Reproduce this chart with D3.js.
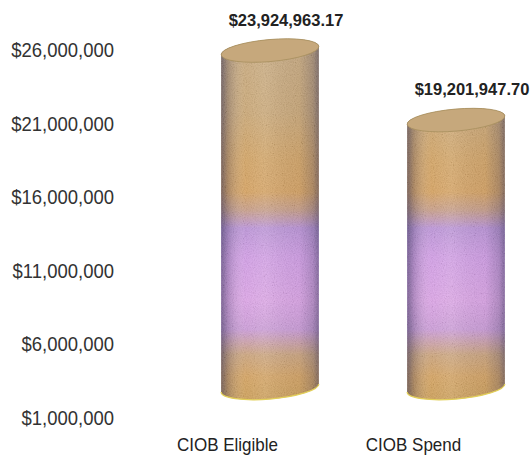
<!DOCTYPE html>
<html>
<head>
<meta charset="utf-8">
<script src="https://cdn.jsdelivr.net/npm/d3@7"></script>
<style>
  body { margin: 0; background: #fff; }
  svg { display: block; font-family: "Liberation Sans", Arial, sans-serif; }
</style>
</head>
<body>
<div id="chart"></div>
<script>
// data
var categories = ["CIOB Eligible", "CIOB Spend"];
var values = [23924963.17, 19201947.70];
var tickValues = [1000000, 6000000, 11000000, 16000000, 21000000, 26000000];

var width = 531, height = 458;

var svg = d3.select("#chart").append("svg")
  .attr("width", width)
  .attr("height", height);

// scales
var y = d3.scaleLinear().domain([1000000, 26000000]).range([418, 50]);
var x = d3.scalePoint().domain(categories).range([134, 506]).padding(0.5);

// 3d offset of the cylinders from the front plane
var depthX = 43, depthY = -30;
var rx = 49, ry = 11, tilt = -5;

var defs = svg.append("defs");

// vertical colour bands, same for both cylinders
var body = defs.append("linearGradient")
  .attr("id", "bodyGrad")
  .attr("gradientUnits", "userSpaceOnUse")
  .attr("x1", 0).attr("x2", 0).attr("y1", 40).attr("y2", 402);
[
  [0.00, "#c9ab80"],
  [0.20, "#cba876"],
  [0.33, "#d3a464"],
  [0.42, "#d6a260"],
  [0.47, "#c89e88"],
  [0.52, "#bc94d8"],
  [0.60, "#d29ee6"],
  [0.72, "#dca4e6"],
  [0.80, "#cc9cd8"],
  [0.87, "#cca47c"],
  [0.93, "#d4a260"],
  [1.00, "#cc9e56"]
].forEach(function(s) {
  body.append("stop").attr("offset", s[0]).attr("stop-color", s[1]);
});

// side shading
var shade = defs.append("linearGradient")
  .attr("id", "shadeGrad")
  .attr("x1", 0).attr("x2", 1).attr("y1", 0).attr("y2", 0);
[
  [0.00, "#2a2850", 0.55],
  [0.07, "#2a2850", 0.25],
  [0.25, "#ffffff", 0.02],
  [0.45, "#ffffff", 0.10],
  [0.80, "#2a2850", 0.05],
  [0.94, "#2a2850", 0.25],
  [1.00, "#2a2850", 0.5]
].forEach(function(s) {
  shade.append("stop").attr("offset", s[0]).attr("stop-color", s[1]).attr("stop-opacity", s[2]);
});

// speckled grain like the scanned original
var grain = defs.append("filter").attr("id", "grain")
  .attr("x", 0).attr("y", 0).attr("width", "100%").attr("height", "100%");
grain.append("feTurbulence")
  .attr("type", "fractalNoise").attr("baseFrequency", 0.9).attr("numOctaves", 2)
  .attr("seed", 3).attr("result", "noise");
grain.append("feColorMatrix")
  .attr("in", "noise").attr("type", "matrix")
  .attr("values", "1.6 0 0 0 -0.3  1.6 0 0 0 -0.3  1.6 0 0 0 -0.3  0 0 0 0 0.1")
  .attr("result", "speck");
grain.append("feComposite")
  .attr("in", "speck").attr("in2", "SourceAlpha").attr("operator", "in");

// point on a tilted ellipse
function ePoint(cx, cy, t) {
  var p = tilt * Math.PI / 180;
  return [
    cx + rx * Math.cos(t) * Math.cos(p) - ry * Math.sin(t) * Math.sin(p),
    cy + rx * Math.cos(t) * Math.sin(p) + ry * Math.sin(t) * Math.cos(p)
  ];
}

function cylinderPath(cx, yTop, yBot) {
  var p = tilt * Math.PI / 180;
  var t0 = Math.atan2(-ry * Math.sin(p), rx * Math.cos(p)); // rightmost
  var rT = ePoint(cx, yTop, t0), lT = ePoint(cx, yTop, t0 + Math.PI);
  var rB = ePoint(cx, yBot, t0), lB = ePoint(cx, yBot, t0 + Math.PI);
  return "M" + lT + "L" + lB +
    "A" + rx + "," + ry + " " + tilt + " 0 0 " + rB +
    "L" + rT +
    "A" + rx + "," + ry + " " + tilt + " 0 0 " + lT + "Z";
}

function bottomArc(cx, yBot) {
  var p = tilt * Math.PI / 180;
  var t0 = Math.atan2(-ry * Math.sin(p), rx * Math.cos(p));
  var rB = ePoint(cx, yBot, t0), lB = ePoint(cx, yBot, t0 + Math.PI);
  return "M" + lB + "A" + rx + "," + ry + " " + tilt + " 0 0 " + rB;
}

var baseY = y(1000000) + depthY;

var bars = svg.append("g").selectAll("g")
  .data(categories)
  .enter().append("g");

bars.append("path")
  .attr("d", function(d, i) { return cylinderPath(x(d) + depthX, y(values[i]) + depthY, baseY); })
  .attr("fill", "url(#bodyGrad)");

bars.append("path")
  .attr("d", function(d, i) { return cylinderPath(x(d) + depthX, y(values[i]) + depthY, baseY); })
  .attr("fill", "url(#shadeGrad)");

bars.append("path")
  .attr("d", function(d, i) { return cylinderPath(x(d) + depthX, y(values[i]) + depthY, baseY); })
  .attr("fill", "#000")
  .attr("filter", "url(#grain)");

bars.append("path")
  .attr("d", function(d) { return bottomArc(x(d) + depthX, baseY); })
  .attr("fill", "none")
  .attr("stroke", "#e2cf5a")
  .attr("stroke-width", 1.3);

// top cap
bars.append("ellipse")
  .attr("cx", function(d) { return x(d) + depthX; })
  .attr("cy", function(d, i) { return y(values[i]) + depthY; })
  .attr("rx", rx).attr("ry", ry)
  .attr("transform", function(d, i) {
    return "rotate(" + tilt + "," + (x(d) + depthX) + "," + (y(values[i]) + depthY) + ")";
  })
  .attr("fill", "#c6a87c")
  .attr("stroke", "#a8905e")
  .attr("stroke-width", 0.8);

// value labels
bars.append("text")
  .attr("x", function(d) { return x(d) + depthX + 16; })
  .attr("y", function(d, i) { return y(values[i]) + depthY - ry - 14; })
  .attr("text-anchor", "middle")
  .attr("font-size", 16.5)
  .attr("font-weight", "bold")
  .attr("fill", "#222")
  .text(function(d, i) { return "$" + d3.format(",.2f")(values[i]); });

// y axis labels
var yAxis = d3.axisLeft(y)
  .tickValues(tickValues)
  .tickSize(0)
  .tickPadding(0)
  .tickFormat(d3.format("$,.0f"));

var ay = svg.append("g")
  .attr("transform", "translate(114,0)")
  .call(yAxis);
ay.select(".domain").remove();
ay.selectAll("text")
  .attr("font-size", 18.5)
  .attr("transform", "scale(1,1.1)")
  .attr("font-family", "'Liberation Sans', Arial, sans-serif")
  .attr("fill", "#333");

// x axis labels
var ax = svg.append("g")
  .attr("transform", "translate(0,451)")
  .call(d3.axisBottom(x).tickSize(0).tickPadding(0));
ax.select(".domain").remove();
ax.selectAll("text")
  .attr("dy", 0)
  .attr("font-size", 17)
  .attr("transform", "scale(1,1.08)")
  .attr("font-family", "'Liberation Sans', Arial, sans-serif")
  .attr("fill", "#222");
</script>
</body>
</html>
